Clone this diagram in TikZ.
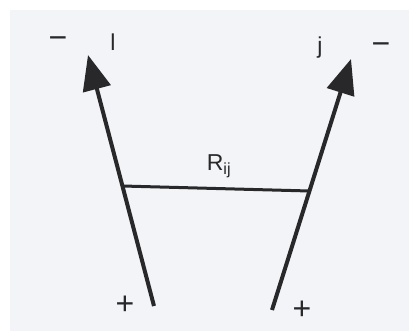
\documentclass[tikz,border=0pt]{standalone}
\usepackage{fontspec}
\setmainfont{Liberation Sans}
\usetikzlibrary{arrows.meta}
\definecolor{paper}{RGB}{242,244,247}
\definecolor{ink}{RGB}{40,40,42}
\tikzset{
  vec/.style={line width=4pt, ink, -{Triangle[length=35pt,width=28pt]}},
  link/.style={line width=3pt, ink},
  lbl/.style={font=\fontsize{23pt}{25pt}\selectfont, text=ink, inner sep=0pt},
  sgn/.style={font=\fontsize{32pt}{34pt}\selectfont, text=ink, inner sep=0pt}
}
\begin{document}
\begin{tikzpicture}[x=1pt,y=-1pt]
\useasboundingbox (0,0) rectangle (409,331);
\fill[white] (0,0) rectangle (409,331);
\fill[paper] (10,10) rectangle (409,331);
\coordinate (ib) at (154,306);
\coordinate (it) at (88,55);
\coordinate (jb) at (272,310);
\coordinate (jt) at (351,59);
\coordinate (ri) at (122.4,186);
\coordinate (rj) at (309.5,191);
\draw[vec] (ib) -- (it);
\draw[vec] (jb) -- (jt);
\draw[link] (ri) -- (rj);
\node[sgn] (mi) at (58,43) {−};
\node[lbl] (li) at (113,42) {l};
\node[lbl] (lj) at (320,48) {j};
\node[sgn] (mj) at (381,49) {−};
\node[lbl] (lr) at (219,166) {R\textsubscript{ij}};
\node[sgn] (pi) at (125,305) {+};
\node[sgn] (pj) at (302,310) {+};
\end{tikzpicture}
\end{document}
